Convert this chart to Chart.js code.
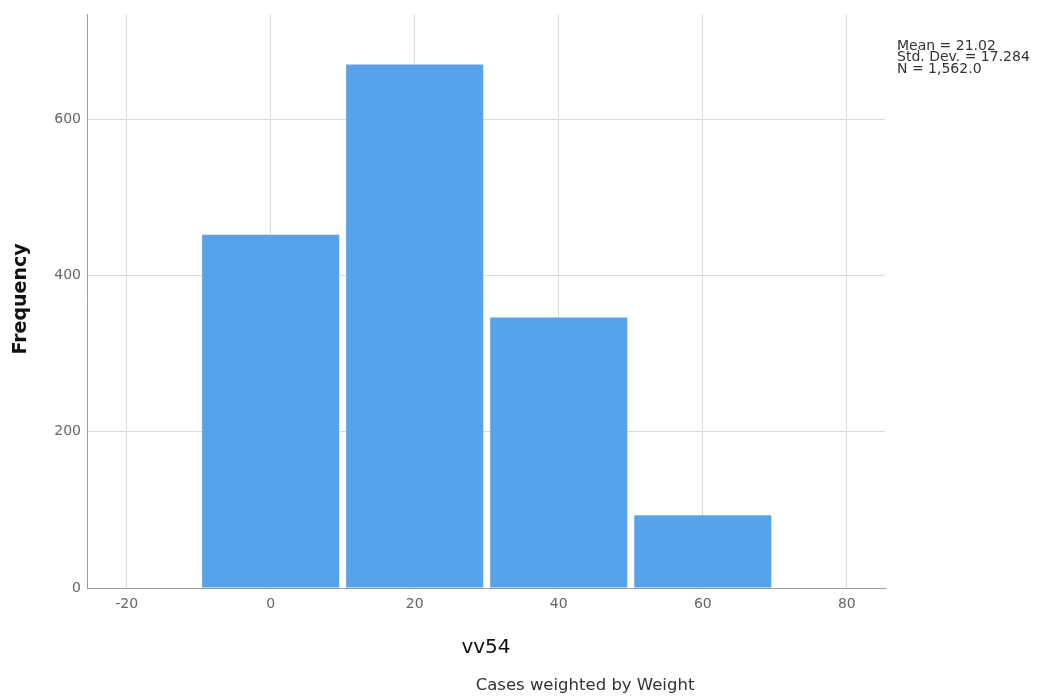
<!DOCTYPE html>
<html>
<head>
<meta charset="utf-8">
<script src="https://cdn.jsdelivr.net/npm/chart.js@4/dist/chart.umd.min.js"></script>
<style>
  html, body { margin: 0; padding: 0; background: #fff; }
  canvas { display: block; }
</style>
</head>
<body>
<canvas id="chart" width="1038" height="697"></canvas>
<script>
// bin centres and frequencies (bins are 20 wide)
const binCenters = [0, 20, 40, 60];
const frequencies = [452, 670, 346, 93];
const xTickValues = [-20, 0, 20, 40, 60, 80];
const yTickValues = [0, 200, 400, 600];
const statsLines = ['Mean = 21.02', 'Std. Dev. = 17.284', 'N = 1,562.0'];

const textPlugin = {
    id: 'texts',
    afterDraw(chart) {
        const c = chart.ctx;
        const area = chart.chartArea;
        c.save();
        c.fillStyle = '#333';
        c.font = '14px "DejaVu Sans"';
        c.textAlign = 'left';
        c.textBaseline = 'middle';
        statsLines.forEach((t, i) => c.fillText(t, 897, 46 + i * 11.5));

        c.fillStyle = '#111';
        c.font = '20px "DejaVu Sans"';
        c.textAlign = 'center';
        c.fillText('vv54', (area.left + area.right) / 2, 648);

        c.fillStyle = '#333';
        c.font = '16.5px "DejaVu Sans"';
        c.fillText('Cases weighted by Weight', 585, 686);

        c.translate(21, 299);
        c.rotate(-Math.PI / 2);
        c.fillStyle = '#111';
        c.font = 'bold 19px "DejaVu Sans"';
        c.fillText('Frequency', 0, 0);
        c.restore();
    }
};

const ctx = document.getElementById('chart').getContext('2d');
const chart = new Chart(ctx, {
    type: 'bar',
    data: {
        datasets: [{
            data: binCenters.map((x, i) => ({ x: x, y: frequencies[i] })),
            backgroundColor: '#57A3EB',
            borderWidth: 0,
            barPercentage: 1,
            categoryPercentage: 0.952
        }]
    },
    options: {
        responsive: false,
        animation: false,
        layout: { padding: { top: 10, right: 153, left: 0, bottom: 0 } },
        plugins: {
            legend: { display: false },
            tooltip: { enabled: false }
        },
        scales: {
            x: {
                type: 'linear',
                min: -25.5,
                max: 85.3,
                offset: false,
                afterBuildTicks: s => { s.ticks = xTickValues.map(v => ({ value: v })); },
                afterFit: s => { s.height = 109; },
                grid: { color: '#dadada', drawTicks: false, offset: false },
                border: { color: '#9a9a9a' },
                ticks: {
                    padding: 8,
                    maxRotation: 0,
                    color: '#666',
                    font: { family: 'DejaVu Sans', size: 14 }
                }
            },
            y: {
                min: 0,
                max: 734,
                afterBuildTicks: s => { s.ticks = yTickValues.map(v => ({ value: v })); },
                afterFit: s => { s.width = 87; },
                grid: { color: '#dadada', drawTicks: false },
                border: { color: '#9a9a9a' },
                ticks: {
                    padding: 6,
                    color: '#666',
                    font: { family: 'DejaVu Sans', size: 14 }
                }
            }
        }
    },
    plugins: [textPlugin]
});
</script>
</body>
</html>
